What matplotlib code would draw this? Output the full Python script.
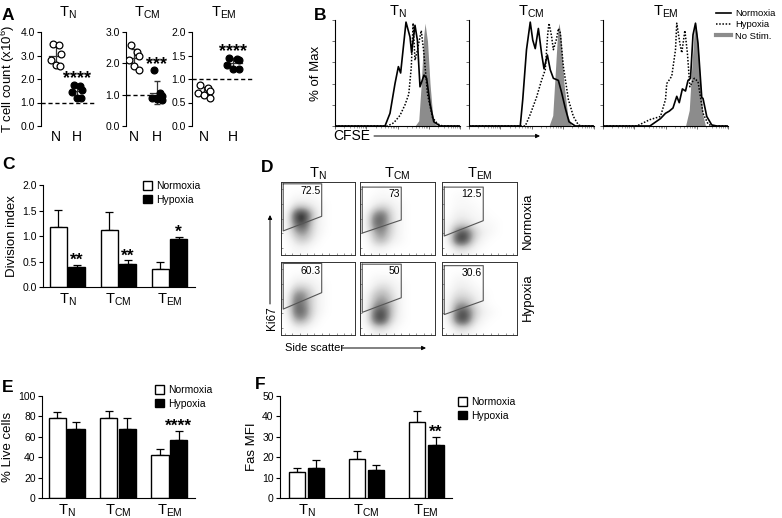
import numpy as np
import matplotlib
matplotlib.use("Agg")
import matplotlib.pyplot as plt
from matplotlib.patches import Patch
from matplotlib.lines import Line2D
from matplotlib.colors import PowerNorm

plt.rcParams['font.family'] = ['Liberation Sans', 'DejaVu Sans']
plt.rcParams['mathtext.fontset'] = 'custom'
plt.rcParams['mathtext.rm'] = 'Liberation Sans'
plt.rcParams['mathtext.it'] = 'Liberation Sans:italic'
plt.rcParams['mathtext.bf'] = 'Liberation Sans:bold'
plt.rcParams['axes.linewidth'] = 0.8

W, H = 782, 518

# ---------------- data ----------------
subsets = [r'T$_{\mathrm{N}}$', r'T$_{\mathrm{CM}}$', r'T$_{\mathrm{EM}}$']
conditions = ['Normoxia', 'Hypoxia']

# A: T cell count (x10^6)
count_n = [[3.5, 3.45, 3.05, 2.8, 2.6, 2.55],
           [2.6, 2.35, 2.25, 2.1, 1.9, 1.8],
           [0.88, 0.8, 0.75, 0.7, 0.66, 0.6]]
count_h = [[1.75, 1.72, 1.55, 1.45, 1.2, 1.2],
           [1.78, 1.05, 0.97, 0.9, 0.85, 0.82],
           [1.45, 1.42, 1.4, 1.3, 1.22, 1.22]]
count_stars = ['****', '***', '****']
count_ticks = [[0, 1, 2, 3, 4], [0, 1, 2, 3], [0, 0.5, 1, 1.5, 2]]

# B: CFSE histograms (% of max), x on a 0-1 log-like scale
norm_x = [[0, 0.40, 0.44, 0.48, 0.507, 0.525, 0.568, 0.60, 0.613, 0.64, 0.659, 0.68, 0.712, 0.733, 0.76, 0.79, 0.84, 1],
          [0, 0.41, 0.43, 0.46, 0.49, 0.51, 0.53, 0.555, 0.58, 0.60, 0.627, 0.65, 0.675, 0.715, 0.74, 0.77, 0.80, 0.85, 1],
          [0, 0.375, 0.46, 0.5, 0.53, 0.56, 0.59, 0.61, 0.635, 0.66, 0.68, 0.70, 0.72, 0.74, 0.76, 0.79, 0.80, 0.83, 0.87, 0.91, 1]]
norm_y = [[0, 0, 0.12, 0.40, 0.56, 0.50, 0.98, 0.84, 0.69, 0.95, 0.81, 0.37, 0.48, 0.45, 0.21, 0.04, 0, 0],
          [0, 0, 0.25, 0.72, 0.98, 0.81, 0.73, 0.92, 0.69, 0.54, 0.67, 0.53, 0.45, 0.43, 0.32, 0.17, 0.04, 0, 0],
          [0, 0, 0.07, 0.12, 0.14, 0.17, 0.28, 0.22, 0.35, 0.33, 0.43, 0.45, 0.86, 0.97, 0.78, 0.27, 0.26, 0.09, 0.01, 0, 0]]
hyp_x = [[0, 0.42, 0.47, 0.52, 0.56, 0.59, 0.61, 0.625, 0.64, 0.66, 0.69, 0.71, 0.74, 0.78, 0.82, 0.86, 1],
         [0, 0.45, 0.49, 0.54, 0.58, 0.61, 0.63, 0.64, 0.66, 0.675, 0.70, 0.715, 0.73, 0.755, 0.795, 0.835, 0.875, 0.9, 1],
         [0, 0.27, 0.375, 0.46, 0.50, 0.51, 0.55, 0.58, 0.59, 0.615, 0.63, 0.655, 0.675, 0.695, 0.73, 0.76, 0.80, 0.84, 0.87, 1]]
hyp_y = [[0, 0, 0.03, 0.10, 0.20, 0.30, 0.55, 0.97, 0.62, 0.72, 0.90, 0.70, 0.30, 0.08, 0.02, 0, 0],
         [0, 0, 0.11, 0.27, 0.43, 0.53, 0.87, 0.97, 0.85, 0.72, 0.82, 0.92, 0.88, 0.56, 0.25, 0.09, 0.01, 0, 0],
         [0, 0, 0.06, 0.09, 0.25, 0.40, 0.47, 0.72, 0.97, 0.78, 0.69, 0.90, 0.69, 0.37, 0.45, 0.42, 0.12, 0.02, 0, 0]]
nostim_x = [[0.64, 0.67, 0.69, 0.71, 0.72, 0.74, 0.76, 0.78, 0.80, 0.82],
            [0.64, 0.67, 0.69, 0.71, 0.72, 0.735, 0.76, 0.79, 0.82],
            [0.66, 0.69, 0.71, 0.73, 0.74, 0.755, 0.78, 0.80, 0.82]]
nostim_y = [[0, 0.05, 0.4, 0.85, 0.97, 0.8, 0.4, 0.12, 0.02, 0],
            [0, 0.1, 0.5, 0.9, 0.97, 0.85, 0.4, 0.1, 0],
            [0, 0.15, 0.55, 0.9, 0.97, 0.85, 0.4, 0.1, 0]]

# C: division index
div_n = [1.17, 1.12, 0.36]
div_n_err = [0.34, 0.36, 0.13]
div_h = [0.39, 0.46, 0.94]
div_h_err = [0.04, 0.06, 0.04]
div_stars = ['**', '**', '*']

# D: Ki67 vs side scatter (rows: normoxia, hypoxia)
ki67_pct = [['72.5', '73', '12.5'], ['60.3', '50', '30.6']]
gate_top = [[0.975, 0.93, 0.93], [0.98, 0.97, 0.95]]
gate_right_low = [[0.53, 0.48, 0.47], [0.58, 0.51, 0.47]]
gate_left_low = [[0.33, 0.30, 0.26], [0.355, 0.31, 0.28]]
# event density, 8x8 cells, top row first
density = [
    [[[0, 0, 0, 0, 0, 0, 0, 0], [0, 1, 1, 1, 0, 0, 0, 0], [0, 3, 3, 2, 1, 0, 0, 0], [1, 8, 9, 4, 1, 0, 0, 0],
      [1, 7, 8, 3, 1, 0, 0, 0], [1, 5, 6, 3, 1, 0, 0, 0], [0, 3, 4, 2, 0, 0, 0, 0], [0, 1, 1, 0, 0, 0, 0, 0]],
     [[0, 0, 1, 0, 0, 0, 0, 0], [0, 1, 1, 1, 0, 0, 0, 0], [0, 2, 3, 2, 1, 0, 0, 0], [1, 6, 7, 3, 1, 0, 0, 0],
      [1, 7, 7, 3, 1, 0, 0, 0], [1, 5, 6, 3, 1, 0, 0, 0], [0, 4, 5, 2, 1, 0, 0, 0], [0, 1, 1, 0, 0, 0, 0, 0]],
     [[0, 0, 0, 0, 0, 0, 0, 0], [0, 1, 1, 0, 0, 0, 0, 0], [0, 1, 1, 1, 0, 0, 0, 0], [0, 2, 2, 1, 1, 0, 0, 0],
      [1, 3, 3, 2, 1, 1, 0, 0], [1, 7, 8, 4, 2, 1, 0, 0], [1, 8, 8, 3, 1, 0, 0, 0], [0, 2, 2, 1, 0, 0, 0, 0]]],
    [[[0, 0, 0, 0, 0, 0, 0, 0], [0, 1, 1, 1, 0, 0, 0, 0], [0, 3, 3, 2, 1, 0, 0, 0], [1, 6, 6, 3, 1, 0, 0, 0],
      [1, 7, 6, 3, 1, 0, 0, 0], [1, 7, 7, 3, 1, 0, 0, 0], [0, 5, 5, 2, 0, 0, 0, 0], [0, 1, 1, 0, 0, 0, 0, 0]],
     [[0, 0, 0, 0, 0, 0, 0, 0], [0, 1, 1, 1, 0, 0, 0, 0], [0, 2, 3, 2, 1, 0, 0, 0], [1, 4, 5, 3, 1, 0, 0, 0],
      [1, 5, 6, 4, 1, 0, 0, 0], [1, 7, 8, 4, 1, 0, 0, 0], [1, 7, 8, 3, 1, 0, 0, 0], [0, 2, 2, 1, 0, 0, 0, 0]],
     [[0, 0, 0, 0, 0, 0, 0, 0], [0, 1, 1, 0, 0, 0, 0, 0], [0, 2, 2, 1, 0, 0, 0, 0], [1, 3, 3, 2, 1, 0, 0, 0],
      [1, 5, 5, 3, 1, 0, 0, 0], [1, 7, 8, 4, 2, 1, 0, 0], [1, 7, 8, 3, 1, 0, 0, 0], [0, 2, 2, 1, 0, 0, 0, 0]]]]

# E: % live cells
live_n = [78, 78, 42]
live_n_err = [6.5, 7, 6.5]
live_h = [67.5, 68, 56.5]
live_h_err = [7, 10, 9.5]
live_stars = ['', '', '****']

# F: Fas MFI
fas_n = [12.7, 19, 37.5]
fas_n_err = [1.9, 4, 5.3]
fas_h = [14.6, 13.8, 25.9]
fas_h_err = [4.1, 2.2, 4.2]
fas_stars = ['', '', '**']

# ---------------- figure ----------------
fig = plt.figure(figsize=(W / 100, H / 100), dpi=100)


def px_axes(l, t, r, b):
    return fig.add_axes([l / W, 1 - b / H, (r - l) / W, (b - t) / H])


def clean(ax, bottom=True):
    ax.spines['top'].set_visible(False)
    ax.spines['right'].set_visible(False)
    ax.spines['bottom'].set_visible(bottom)


# ----- A -----
a_boxes = [(41, 32, 95, 126), (126, 32, 168, 126), (192, 32, 255, 126)]
a_xlims = [(-0.71, 1.86), (-0.35, 1.48), (-0.41, 1.76)]
jitter = np.array([-0.12, 0.15, 0.22, -0.22, 0.0, 0.2])
for i in range(3):
    ax = px_axes(*a_boxes[i])
    for k, (vals, fc) in enumerate([(count_n[i], 'white'), (count_h[i], 'black')]):
        vals = np.array(vals)
        ax.scatter(k + jitter, vals, s=24, facecolor=fc, edgecolor='k', lw=0.9, zorder=3)
        m, sd = vals.mean(), vals.std(ddof=1)
        ax.plot([k - 0.32, k + 0.32], [m, m], color='#333333', lw=0.9, zorder=2)
        ax.errorbar(k, m, yerr=sd, fmt='none', ecolor='#333333', elinewidth=0.9, capsize=2.5, zorder=2)
    ax.axhline(1, color='k', lw=1, dashes=(3, 2))
    ax.annotate(count_stars[i], (1, max(count_h[i])), xytext=(0, 1), textcoords='offset points',
                ha='center', va='baseline', fontsize=13, fontweight='bold')
    ax.set_xlim(*a_xlims[i])
    ax.set_ylim(0, count_ticks[i][-1])
    ax.set_yticks(count_ticks[i])
    ax.set_yticklabels(['%.1f' % t for t in count_ticks[i]], fontsize=7.5)
    ax.set_xticks([0, 1])
    ax.set_xticklabels(['N', 'H'], fontsize=10)
    ax.tick_params(axis='x', length=0, pad=3)
    ax.tick_params(axis='y', length=3, width=0.8, pad=1.5)
    clean(ax, bottom=False)
    ax.set_title(subsets[i], fontsize=10.5, pad=11)
    if i == 0:
        ax.set_ylabel(r'T cell count (x10$^{\mathrm{6}}$)', fontsize=9.5, labelpad=2)

# ----- B -----
b_boxes = [(335, 20, 460, 126), (469, 20, 594, 126), (603, 20, 728, 126)]
minor = [d * 0.25 + np.log10(m) * 0.25 for d in range(4) for m in range(2, 10)]
for i in range(3):
    ax = px_axes(*b_boxes[i])
    ax.fill_between(nostim_x[i], nostim_y[i], color='#8c8c8c', lw=0)
    ax.plot(hyp_x[i], hyp_y[i], color='k', lw=1.1, ls=(0, (1, 1.1)))
    ax.plot(norm_x[i], norm_y[i], color='k', lw=1.2)
    ax.set_xlim(0, 1)
    ax.set_ylim(0, 1)
    ax.set_yticks(np.linspace(0, 1, 6))
    ax.set_xticks(np.linspace(0, 1, 5))
    ax.set_xticks(minor, minor=True)
    ax.set_xticklabels([])
    ax.set_yticklabels([])
    ax.tick_params(length=2, width=0.6, color='#555555')
    ax.tick_params(which='minor', length=1.2, width=0.5, color='#777777')
    clean(ax)
    ax.set_title(subsets[i], fontsize=10.5, pad=0.5)
    if i == 0:
        ax.set_ylabel('% of Max', fontsize=9.5, labelpad=4)
    if i == 2:
        handles = [Line2D([], [], color='k', lw=1.2),
                   Line2D([], [], color='k', lw=1.1, ls=(0, (1, 1.1))),
                   Line2D([], [], color='#8c8c8c', lw=3)]
        ax.legend(handles, ['Normoxia', 'Hypoxia', 'No Stim.'], fontsize=6.8, frameon=False,
                  loc='upper left', bbox_to_anchor=(716 / W, 1 - 9 / H), bbox_transform=fig.transFigure,
                  handlelength=1.6, handletextpad=0.4, labelspacing=0.25, borderpad=0, borderaxespad=0)


# ----- bar charts C, E, F -----
def bar_panel(box, xlim, width, off, n, n_err, h, h_err, stars, yticks, fmt, ylabel, leg_xy):
    ax = px_axes(*box)
    x = np.arange(len(n))
    z = np.zeros(len(n))
    ax.bar(x - off, n, width, color='white', edgecolor='k', lw=1, zorder=2)
    ax.bar(x + off, h, width, color='black', edgecolor='k', lw=1, zorder=2)
    ax.errorbar(x - off, n, yerr=[z, n_err], fmt='none', ecolor='k', elinewidth=0.9, capsize=3, capthick=0.9, zorder=1)
    ax.errorbar(x + off, h, yerr=[z, h_err], fmt='none', ecolor='k', elinewidth=0.9, capsize=3, capthick=0.9, zorder=1)
    for j, s in enumerate(stars):
        if s:
            ax.annotate(s, (x[j] + off, h[j] + h_err[j]), xytext=(0, 0), textcoords='offset points',
                        ha='center', va='baseline', fontsize=12.5, fontweight='bold')
    ax.set_xlim(*xlim)
    ax.set_ylim(yticks[0], yticks[-1])
    ax.set_yticks(yticks)
    ax.set_yticklabels([fmt % t for t in yticks], fontsize=7.5)
    ax.set_xticks(x)
    ax.set_xticklabels(subsets, fontsize=10.5)
    ax.tick_params(axis='x', length=0, pad=3)
    ax.tick_params(axis='y', length=3, width=0.8, pad=1.5)
    clean(ax)
    ax.set_ylabel(ylabel, fontsize=9.5, labelpad=3)
    handles = [Patch(facecolor='white', edgecolor='k', lw=1), Patch(facecolor='black', edgecolor='k', lw=1)]
    ax.legend(handles, conditions, fontsize=7.5, frameon=False, loc='upper left',
              bbox_to_anchor=(leg_xy[0] / W, 1 - leg_xy[1] / H), bbox_transform=fig.transFigure,
              handlelength=0.9, handleheight=0.9, handletextpad=0.4, labelspacing=0.35,
              borderpad=0, borderaxespad=0)
    return ax


bar_panel((43, 185, 195, 287), (-0.48, 2.5), 0.34, 0.18, div_n, div_n_err, div_h, div_h_err, div_stars,
          [0, 0.5, 1.0, 1.5, 2.0], '%.1f', 'Division index', (143, 181))
bar_panel((42, 396, 195, 498), (-0.48, 2.5), 0.34, 0.18, live_n, live_n_err, live_h, live_h_err, live_stars,
          [0, 20, 40, 60, 80, 100], '%d', '% Live cells', (155, 385))
bar_panel((280, 396, 452, 498), (-0.44, 2.43), 0.27, 0.16, fas_n, fas_n_err, fas_h, fas_h_err, fas_stars,
          [0, 10, 20, 30, 40, 50], '%d', 'Fas MFI', (458, 397))

# ----- D -----
d_cols = [(281, 355), (360, 435), (442, 517)]
d_rows = [(182, 255), (262, 335)]
for r in range(2):
    for c in range(3):
        ax = px_axes(d_cols[c][0], d_rows[r][0], d_cols[c][1], d_rows[r][1])
        ax.imshow(np.array(density[r][c], dtype=float), cmap='Greys', norm=PowerNorm(1.4, vmin=0, vmax=9),
                  extent=(0, 1, 0, 1), origin='upper', interpolation='bicubic', aspect='auto')
        u0, u1 = 0.03, 0.55
        ax.plot([u0, u1, u1, u0, u0],
                [gate_top[r][c], gate_top[r][c], gate_right_low[r][c], gate_left_low[r][c], gate_top[r][c]],
                color='#555555', lw=0.8)
        ax.text(u1 - 0.02, gate_top[r][c] - 0.03, ki67_pct[r][c], fontsize=7.5, ha='right', va='top')
        ax.set_xlim(0, 1)
        ax.set_ylim(0, 1)
        ax.set_xticks(np.linspace(0.05, 0.95, 10))
        ax.set_yticks(np.linspace(0.1, 0.9, 5))
        ax.set_xticklabels([])
        ax.set_yticklabels([])
        ax.tick_params(direction='in', length=1.5, width=0.5, color='#666666')
        for sp in ax.spines.values():
            sp.set_linewidth(0.7)
            sp.set_color('#333333')
        if r == 0:
            ax.set_title(subsets[c], fontsize=10.5, pad=3)

# ----- overlay for letters, arrows, side labels -----
ov = fig.add_axes([0, 0, 1, 1])
ov.set_xlim(0, W)
ov.set_ylim(H, 0)
ov.axis('off')
for letter, x, y in [('A', 2, 8), ('B', 314, 8), ('C', 2, 157), ('D', 261, 160), ('E', 2, 380), ('F', 255, 377)]:
    ov.text(x, y, letter, fontsize=12.5, fontweight='bold', va='top', ha='left')
arrow = dict(arrowstyle='-|>', color='k', lw=0.7, mutation_scale=6, shrinkA=0, shrinkB=0)
ov.text(333, 136, 'CFSE', fontsize=10, va='center', ha='left')
ov.annotate('', xy=(540, 136), xytext=(374, 136), arrowprops=arrow)
ov.text(285, 348, 'Side scatter', fontsize=8, va='center', ha='left')
ov.annotate('', xy=(426, 348), xytext=(342, 348), arrowprops=arrow)
ov.text(272, 318, 'Ki67', fontsize=8.5, va='center', ha='center', rotation=90)
ov.annotate('', xy=(270, 215), xytext=(270, 304), arrowprops=arrow)
ov.text(528, 221, 'Normoxia', fontsize=9.5, va='center', ha='center', rotation=90)
ov.text(528, 297, 'Hypoxia', fontsize=9.5, va='center', ha='center', rotation=90)

fig.savefig('out.png', dpi=100)
